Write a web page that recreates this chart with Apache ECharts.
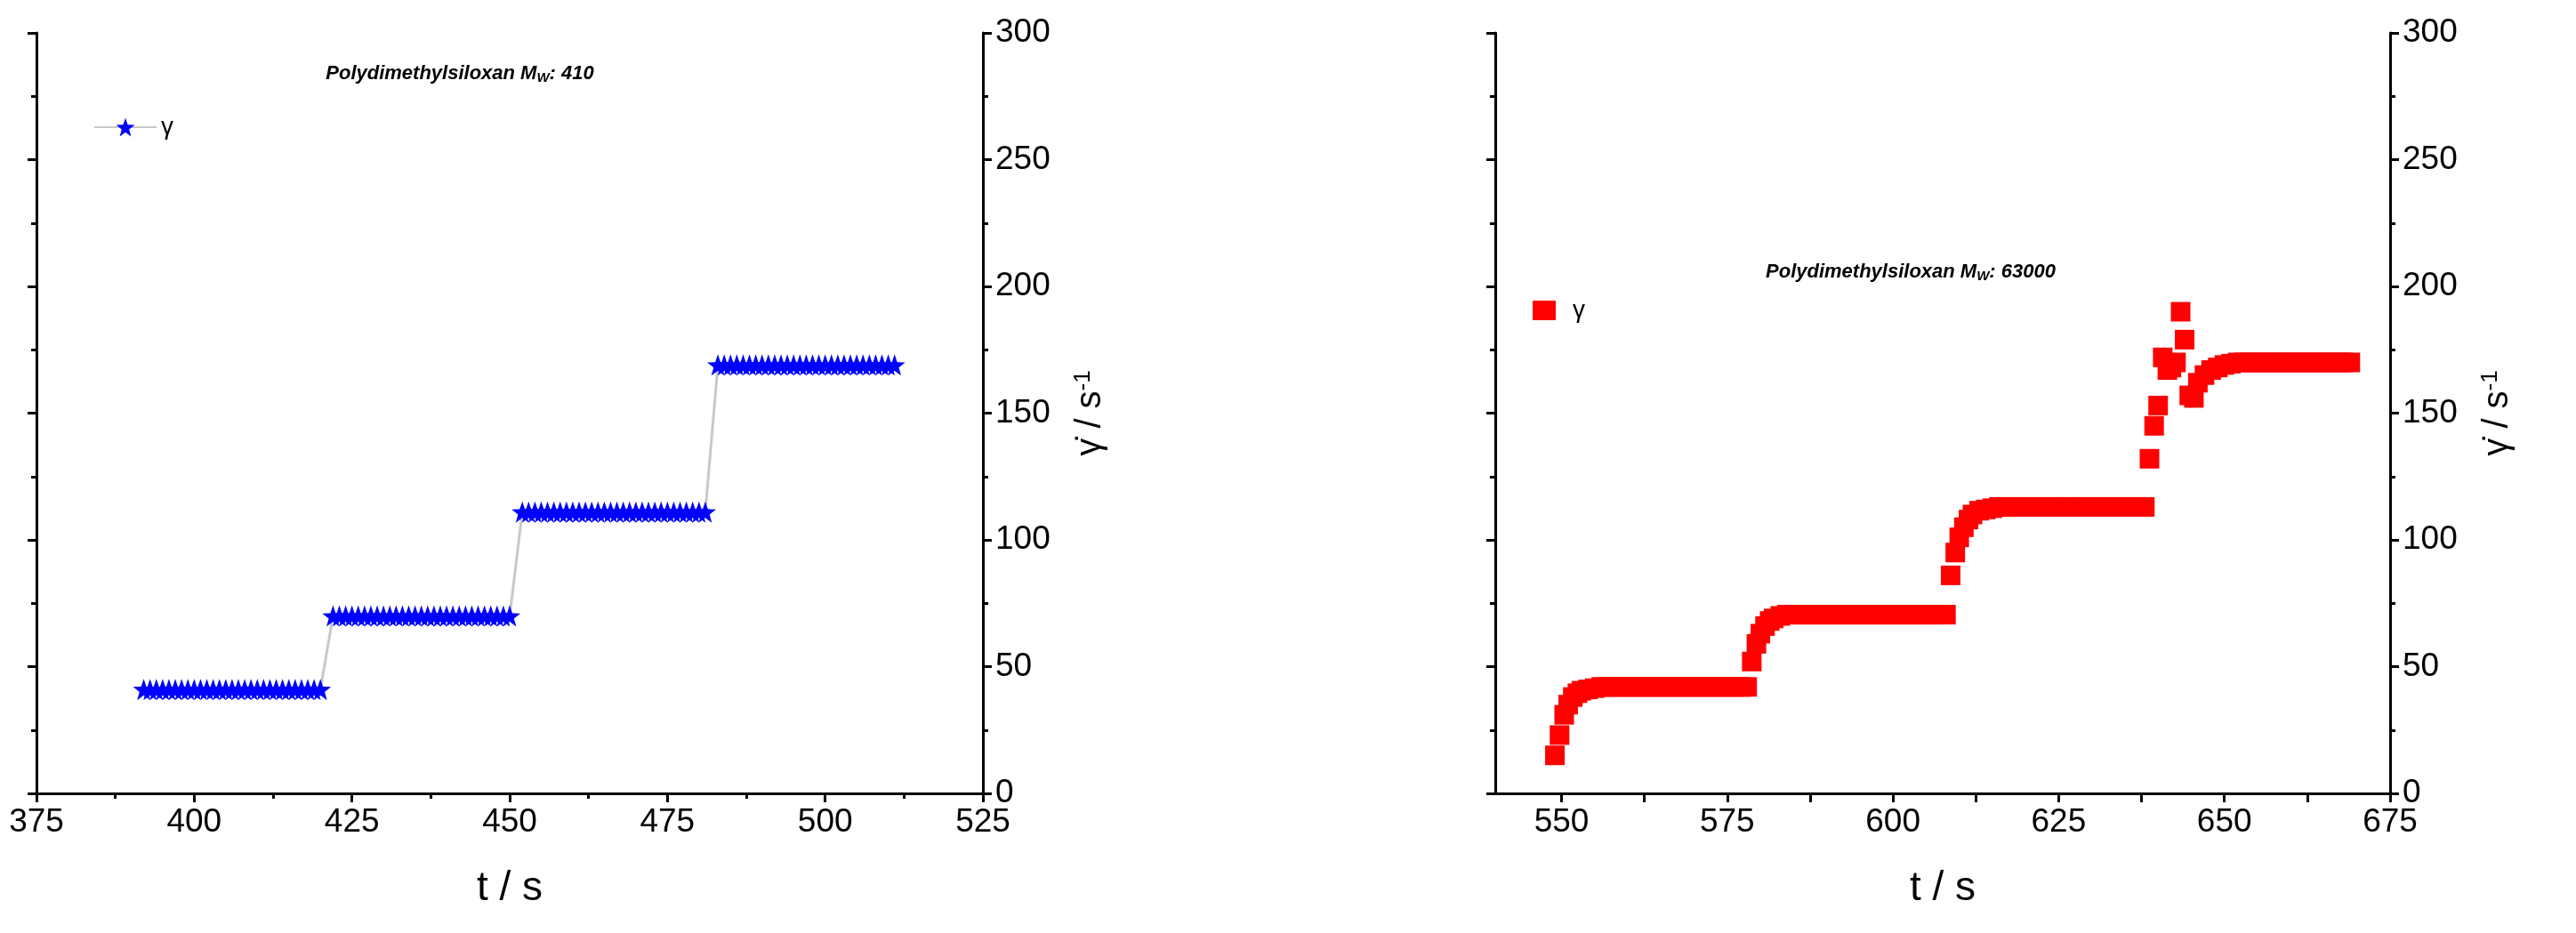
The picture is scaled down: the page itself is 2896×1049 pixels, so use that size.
<!DOCTYPE html>
<html><head><meta charset="utf-8">
<script src="https://cdn.jsdelivr.net/npm/echarts@6/dist/echarts.min.js"></script>
<style>html,body{margin:0;padding:0;background:#fff}#c{width:2896px;height:1049px}</style>
</head><body><div id="c"></div>
<script>
const xTicks1 = [375,400,425,450,475,500,525];
const xTicks2 = [550,575,600,625,650,675];
const xMinor2 = [550,562.5,575,587.5,600,612.5,625,637.5,650,662.5,675];
const yTicks = [0,50,100,150,200,250,300];
// Sample 1: PDMS Mw 410 (time s, shear rate 1/s)
const t1 = [392,393,394,395,396,397,398,399,400,401,402,403,404,405,406,407,408,409,410,411,412,413,414,415,416,417,418,419,420,
 422,423,424,425,426,427,428,429,430,431,432,433,434,435,436,437,438,439,440,441,442,443,444,445,446,447,448,449,450,
 452,453,454,455,456,457,458,459,460,461,462,463,464,465,466,467,468,469,470,471,472,473,474,475,476,477,478,479,480,481,
 483,484,485,486,487,488,489,490,491,492,493,494,495,496,497,498,499,500,501,502,503,504,505,506,507,508,509,510,511];
const g1 = [41,41,41,41,41,41,41,41,41,41,41,41,41,41,41,41,41,41,41,41,41,41,41,41,41,41,41,41,41,
 70,70,70,70,70,70,70,70,70,70,70,70,70,70,70,70,70,70,70,70,70,70,70,70,70,70,70,70,70,
 111,111,111,111,111,111,111,111,111,111,111,111,111,111,111,111,111,111,111,111,111,111,111,111,111,111,111,111,111,111,
 169,169,169,169,169,169,169,169,169,169,169,169,169,169,169,169,169,169,169,169,169,169,169,169,169,169,169,169,169];
// Sample 2: PDMS Mw 63000
const t2 = [549,549.7,550.4,551,551.7,552.4,553,554,555,556,557,558,559,560,561,562,563,564,565,566,567,568,569,570,571,572,573,574,575,576,577,578,
 578.7,579.4,580,580.7,581.4,582,583,584,585,586,587,588,589,590,591,592,593,594,595,596,597,598,599,600,601,602,603,604,605,606,607,608,
 608.7,609.4,610,610.7,611.4,612,613,614,615,616,617,618,619,620,621,622,623,624,625,626,627,628,629,630,631,632,633,634,635,636,637,638,
 638.7,639.4,640,640.7,641.4,642,642.7,643.4,644,644.7,645.4,646,647,648,649,650,651,652,653,654,655,656,657,658,659,660,661,662,663,664,665,666,667,668,669];
const g2 = [15,23,31,35,38,39.5,40.5,41,41.5,42,42,42,42,42,42,42,42,42,42,42,42,42,42,42,42,42,42,42,42,42,42,42,
 52,59,63,66,68,69,70,70.5,70.5,70.5,70.5,70.5,70.5,70.5,70.5,70.5,70.5,70.5,70.5,70.5,70.5,70.5,70.5,70.5,70.5,70.5,70.5,70.5,70.5,70.5,70.5,70.5,
 86,95,101,105,108,110,111.5,112,112.5,113,113,113,113,113,113,113,113,113,113,113,113,113,113,113,113,113,113,113,113,113,113,113,
 132,145,153,172,167,168,170,190,179,157,156,162,165,167,168,169,169.5,170,170,170,170,170,170,170,170,170,170,170,170,170,170,170,170,170,170];

const F = '"Liberation Sans Narrow","Liberation Sans",Arial,sans-serif';
const zip = (a,b)=>a.map((v,i)=>[v,b[i]]);
const tk = {lineStyle:{width:3,color:'#000'}};
function xAxis(gi,min,max,labels,ticks){
 const a = {gridIndex:gi,type:'value',min,max,interval:25,name:'t / s',nameLocation:'middle',nameGap:84,
 nameTextStyle:{fontFamily:F,fontSize:46,color:'#000'},
 axisLine:{onZero:false,lineStyle:{color:'#000',width:3}},axisTick:Object.assign({length:10},tk),
 minorTick:Object.assign({show:true,splitNumber:2,length:6},tk),
 axisLabel:{fontFamily:F,fontSize:37,color:'#000',margin:14},splitLine:{show:false}};
 if(labels){a.axisLabel.customValues=labels;a.axisTick.customValues=ticks;a.minorTick.show=false;}
 return a;}
function yRight(gi){return {gridIndex:gi,type:'value',position:'right',min:0,max:300,interval:50,
 name:'{a|γ̇ / s}{s|-1}',nameLocation:'middle',nameRotate:90,nameGap:100,
 nameTextStyle:{rich:{a:{fontFamily:F,fontSize:40,color:'#000'},s:{fontFamily:F,fontSize:26,color:'#000',verticalAlign:'top',padding:[0,0,16,0]}}},
 axisLine:{show:true,lineStyle:{color:'#000',width:3}},axisTick:Object.assign({length:10},tk),
 minorTick:Object.assign({show:true,splitNumber:2,length:6},tk),
 axisLabel:{fontFamily:F,fontSize:37,color:'#000',margin:14},splitLine:{show:false}};}
function yLeft(gi){return {gridIndex:gi,type:'value',position:'left',min:0,max:300,interval:50,
 axisLine:{show:true,lineStyle:{color:'#000',width:3}},axisTick:Object.assign({length:10},tk),
 minorTick:Object.assign({show:true,splitNumber:2,length:6},tk),axisLabel:{show:false},splitLine:{show:false}};}
function xTop(gi,min,max){return {gridIndex:gi,type:'value',position:'top',min,max,axisLine:{show:true,lineStyle:{color:'#000',width:3}},
 axisTick:{show:false},axisLabel:{show:false},splitLine:{show:false}};}
const titleRich = {fontFamily:F,fontSize:22,fontStyle:'italic',fontWeight:'bold',color:'#000'};
const chart = echarts.init(document.getElementById('c'));
chart.setOption({
 animation:false,
 grid:[{left:41,right:1791,top:37,bottom:157},{left:1681,right:209,top:37,bottom:157}],
 xAxis:[xAxis(0,375,525),xTop(0,375,525),xAxis(1,540,675,xTicks2,xMinor2),xTop(1,540,675)],
 yAxis:[yRight(0),yLeft(0),yRight(1),yLeft(1)],
 legend:[{data:['γ1'],left:100,top:124,itemWidth:70,itemHeight:26,formatter:()=>'γ',textStyle:{fontFamily:F,fontSize:28,color:'#000'}},
   {data:['γ2'],left:1718,top:330,itemWidth:26,itemHeight:22,itemGap:10,formatter:()=>'γ',textStyle:{fontFamily:F,fontSize:28,color:'#000',padding:[0,0,0,14]}}],
 series:[
  {name:'γ1',type:'line',xAxisIndex:0,yAxisIndex:0,data:zip(t1,g1),symbol:'path://M0,-10L2.35,-3.24L9.51,-3.09L3.8,1.24L5.88,8.09L0,4L-5.88,8.09L-3.8,1.24L-9.51,-3.09L-2.35,-3.24Z',symbolSize:24,
   lineStyle:{color:'#c8c8c8',width:3},itemStyle:{color:'#0000ff'},z:3},
  {name:'γ2',type:'scatter',xAxisIndex:2,yAxisIndex:2,data:zip(t2,g2),symbol:'rect',symbolSize:22,itemStyle:{color:'#ff0000',opacity:1}}
 ],
 graphic:[
  {type:'text',x:517,y:83,style:{text:'{a|Polydimethylsiloxan M}{b|W}{a|: 410}',align:'center',verticalAlign:'middle',
    rich:{a:titleRich,b:Object.assign({},titleRich,{fontSize:15,verticalAlign:'bottom',padding:[10,0,0,0]})}}},
  {type:'text',x:2148,y:306,style:{text:'{a|Polydimethylsiloxan M}{b|W}{a|: 63000}',align:'center',verticalAlign:'middle',
    rich:{a:titleRich,b:Object.assign({},titleRich,{fontSize:15,verticalAlign:'bottom',padding:[10,0,0,0]})}}}
 ]
});
</script></body></html>
